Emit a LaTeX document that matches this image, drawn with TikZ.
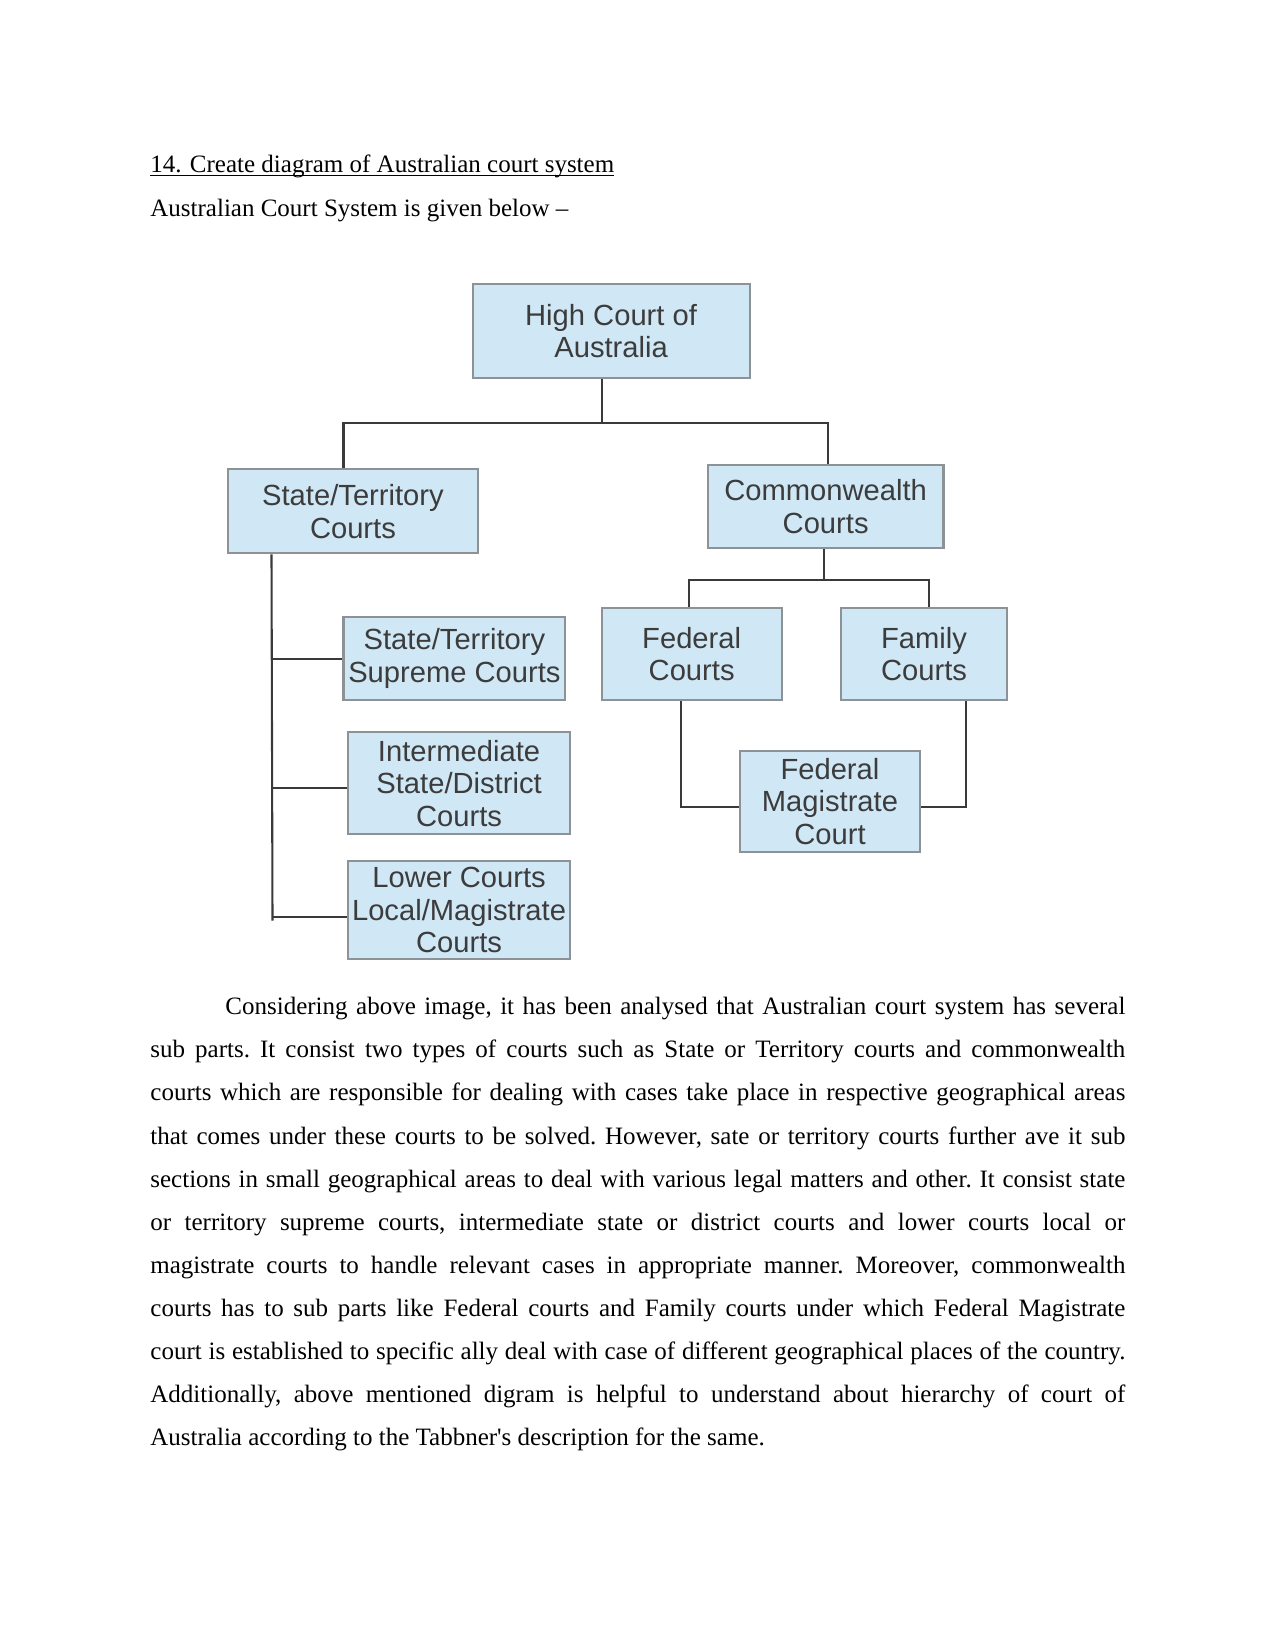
\documentclass[tikz,border=0pt]{standalone}
\usepackage{fontspec}
\setmainfont{Liberation Serif}
\newfontfamily\boxfont{Liberation Sans}
\definecolor{boxfill}{HTML}{D0E7F5}
\definecolor{boxline}{HTML}{8C9296}
\definecolor{boxtext}{HTML}{3C3C3C}
\definecolor{conn}{HTML}{3A3A3A}
\newcommand\myul[1]{\setbox0\hbox{#1}\rlap{\rule[-1.5pt]{\wd0}{0.55pt}}\box0}
\tikzset{
  court/.style={draw=boxline, line width=1pt, fill=boxfill, inner sep=0pt,
    align=center, text=boxtext, font=\boxfont\fontsize{14}{15.65}\selectfont},
  link/.style={draw=conn, line width=1pt},
  bodytext/.style={inner sep=0pt, font=\fontsize{12}{20.7}\selectfont}
}
\begin{document}
\begin{tikzpicture}[x=0.48pt,y=-0.48pt]
\useasboundingbox (0,0) rectangle (1275,1651);
\fill[white] (0,0) rectangle (1275,1651);

% header text
\node[bodytext, anchor=base west] (title) at (150,173) {\myul{14. Create diagram of Australian court system}};
\node[bodytext, anchor=base west] (intro) at (150,216.5) {Australian Court System is given below –};

% boxes
\node[court, minimum width=277*0.48pt, minimum height=93.7*0.48pt] (high) at (611.1,330.9) {High Court of\\Australia};
\node[court, minimum width=249.5*0.48pt, minimum height=84*0.48pt] (st) at (352.95,511.3) {State/Territory\\Courts};
\node[court, minimum width=235.7*0.48pt, minimum height=83.6*0.48pt] (cw) at (825.65,506.5) {Commonwealth\\Courts};
\node[court, minimum width=221.9*0.48pt, minimum height=83.4*0.48pt] (sup) at (454.45,658.5) {State/Territory\\Supreme Courts};
\node[court, minimum width=221.9*0.48pt, minimum height=102*0.48pt] (inter) at (459.05,783.3) {Intermediate\\State/District\\Courts};
\node[court, minimum width=221.9*0.48pt, minimum height=97.4*0.48pt] (lower) at (459.05,910) {Lower Courts\\Local/Magistrate\\Courts};
\node[court, minimum width=180.1*0.48pt, minimum height=92.6*0.48pt] (fed) at (691.65,654) {Federal\\Courts};
\node[court, minimum width=166.3*0.48pt, minimum height=92.6*0.48pt] (fam) at (924.05,654) {Family\\Courts};
\node[court, minimum width=180.1*0.48pt, minimum height=101.6*0.48pt] (fmag) at (829.95,801.5) {Federal\\Magistrate\\Court};

% junction coordinates
\coordinate (hj) at (601.6,423.3);
\coordinate (hl) at (343.5,423.3);
\coordinate (hr) at (827.7,423.3);
\coordinate (tt) at (271.5,553.3);
\coordinate (tb) at (272.5,920.7);
\coordinate (b1) at (271.8,658.7);
\coordinate (b2) at (272.2,788);
\coordinate (b3) at (272.5,916.7);
\coordinate (cj) at (823.6,580);
\coordinate (cl) at (689.4,580);
\coordinate (cr) at (929.2,580);
\coordinate (fl) at (680.7,806.7);
\coordinate (fr) at (966.4,806.7);

% connectors: high court
\draw[link] (hj |- high.south) -- (hj);
\draw[link] (hl |- st.north) -- (hl) -- (hr) -- (hr |- cw.north);
% state/territory branch
\draw[link] (tt |- st.south) -- (tb);
\draw[link] (b1) -- (b1 -| sup.west);
\draw[link] (b2) -- (b2 -| inter.west);
\draw[link] (b3) -- (b3 -| lower.west);
% commonwealth branch
\draw[link] (cj |- cw.south) -- (cj);
\draw[link] (cl |- fed.north) -- (cl) -- (cr) -- (cr |- fam.north);
\draw[link] (fl |- fed.south) -- (fl) -- (fl -| fmag.west);
\draw[link] (fr |- fam.south) -- (fr) -- (fr -| fmag.east);

% paragraph
\node[bodytext, anchor=base west, text width=468pt, align=justify, execute at begin node=\frenchspacing] (para) at (150,1014.7) {%
\hspace*{36pt}Considering above image, it has been analysed that Australian court system has several\linebreak
sub parts. It consist two types of courts such as State or Territory courts and commonwealth\linebreak
courts which are responsible for dealing with cases take place in respective geographical areas\linebreak
that comes under these courts to be solved. However, sate or territory courts further ave it sub\linebreak
sections in small geographical areas to deal with various legal matters and other. It consist state\linebreak
or territory supreme courts, intermediate state or district courts and lower courts local or\linebreak
magistrate courts to handle relevant cases in appropriate manner. Moreover, commonwealth\linebreak
courts has to sub parts like Federal courts and Family courts under which Federal Magistrate\linebreak
court is established to specific ally deal with case of different geographical places of the country.\linebreak
Additionally, above mentioned digram is helpful to understand about hierarchy of court of\linebreak
Australia according to the Tabbner\textquotesingle s description for the same.};
\end{tikzpicture}
\end{document}
